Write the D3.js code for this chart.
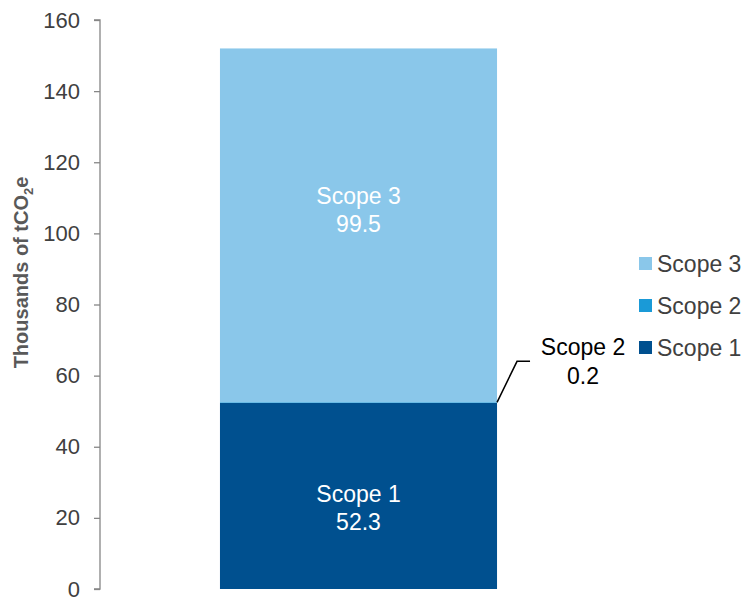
<!DOCTYPE html>
<html>
<head>
<meta charset="utf-8">
<script src="https://cdn.jsdelivr.net/npm/d3@7"></script>
<style>
  html, body { margin: 0; padding: 0; background: #fff; }
  svg { display: block; font-family: "Liberation Sans", Arial, sans-serif; }
</style>
</head>
<body>
<svg id="chart" width="746" height="597"></svg>
<script>
// Emissions by scope, thousands of tCO2e (stacked bottom to top)
const scopes = ["Scope 1", "Scope 2", "Scope 3"];
const values = [52.3, 0.2, 99.5];
const colors = ["#00508F", "#1A9AD7", "#8AC7EA"];
const yTicks = [0, 20, 40, 60, 80, 100, 120, 140, 160];
const categories = ["Total"];

const svg = d3.select("#chart");

const y = d3.scaleLinear().domain([0, 160]).range([589, 20]);
const x = d3.scaleBand().domain(categories).range([100, 617]).paddingInner(0).paddingOuter(0.433);

// stacked segments
let acc = 0;
const segs = values.map((v, i) => {
  const s = { name: scopes[i], value: v, y0: acc, y1: acc + v, color: colors[i] };
  acc += v;
  return s;
});

svg.append("g").selectAll("rect.seg").data(segs).enter().append("rect")
  .attr("class", "seg")
  .attr("x", x("Total"))
  .attr("width", x.bandwidth())
  .attr("y", d => y(d.y1))
  .attr("height", d => y(d.y0) - y(d.y1))
  .attr("fill", d => d.color);

// y axis
const axis = d3.axisLeft(y).tickValues(yTicks).tickSize(6).tickPadding(14);
const ax = svg.append("g").attr("transform", "translate(100,0)").call(axis);
ax.select(".domain").attr("stroke", "#868686").attr("stroke-width", 1.3).attr("d", `M-6,${y(160)}H0V${y(0)}H-6`);
ax.selectAll(".tick line").attr("stroke", "#868686").attr("stroke-width", 1.3);
ax.selectAll(".tick text").attr("fill", "#404040").style("font-size", "22px");

// y axis title
const title = svg.append("text")
  .attr("transform", `translate(28,${y(80) - 32}) rotate(-90)`)
  .attr("text-anchor", "middle")
  .attr("fill", "#595959")
  .style("font-size", "20px")
  .style("font-weight", "bold");
title.append("tspan").text("Thousands of tCO");
title.append("tspan").text("2").style("font-size", "13px").attr("dy", 5);
title.append("tspan").text("e").attr("dy", -5);

// in-bar labels (Scope 1 and Scope 3), two lines each
const cx = x("Total") + x.bandwidth() / 2;
const inBar = [{ seg: segs[0], dy: 6 }, { seg: segs[2], dy: -21 }];
inBar.forEach(({ seg: d, dy }) => {
  const my = (y(d.y0) + y(d.y1)) / 2 + dy;
  const t = svg.append("text")
    .attr("text-anchor", "middle")
    .attr("fill", "#fff")
    .style("font-size", "23px");
  t.append("tspan").attr("x", cx).attr("y", my).text(d.name);
  t.append("tspan").attr("x", cx).attr("y", my + 28).text(d.value.toFixed(1));
});

// Scope 2 callout
const s2 = segs[1];
const bx = x("Total") + x.bandwidth();
const by = y(s2.y1);
svg.append("path")
  .attr("d", `M${bx},${by}L${bx + 20},${by - 41}H${bx + 33}`)
  .attr("fill", "none")
  .attr("stroke", "#000")
  .attr("stroke-width", 1.5);
const ct = svg.append("text").attr("text-anchor", "middle").attr("fill", "#000").style("font-size", "23px");
ct.append("tspan").attr("x", 583).attr("y", by - 47).text(s2.name);
ct.append("tspan").attr("x", 583).attr("y", by - 18).text(s2.value.toFixed(1));

// legend (top to bottom: Scope 3, Scope 2, Scope 1)
const legend = svg.append("g").attr("transform", "translate(639,0)");
segs.slice().reverse().forEach((d, i) => {
  const ly = 264 + i * 42;
  legend.append("rect").attr("x", 0).attr("y", ly - 7).attr("width", 13).attr("height", 13).attr("fill", d.color);
  legend.append("text").attr("x", 18).attr("y", ly + 8).attr("fill", "#404040").style("font-size", "23px").text(d.name);
});
</script>
</body>
</html>
